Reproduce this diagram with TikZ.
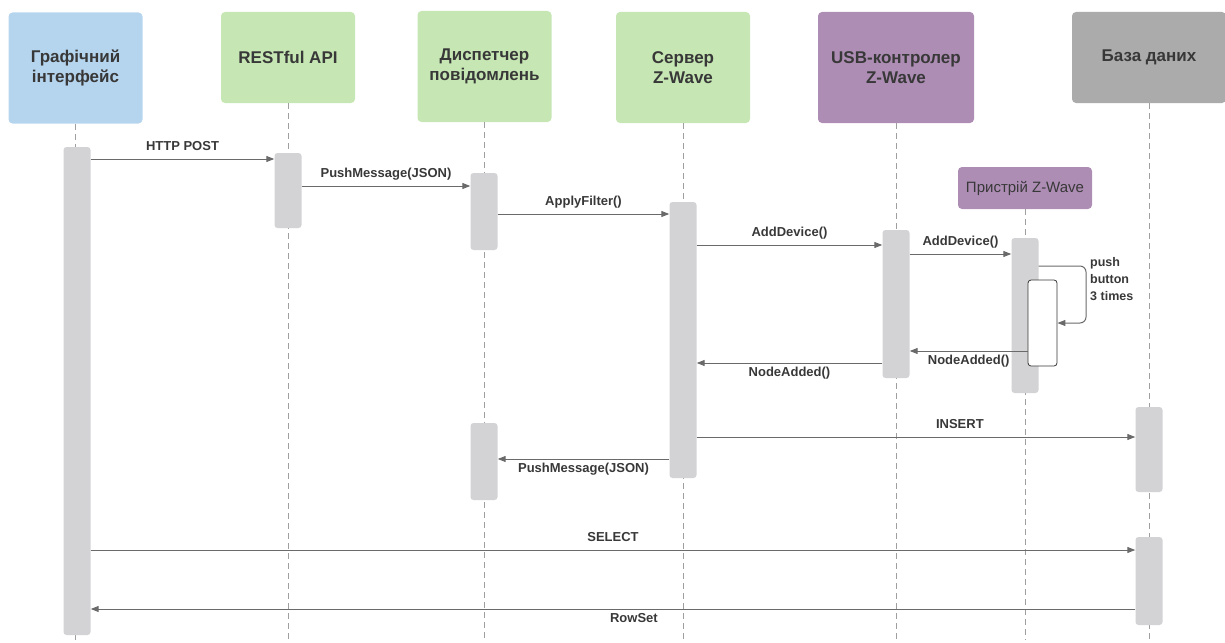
\documentclass[tikz,border=0pt]{standalone}
\usepackage{fontspec}
\setmainfont{Liberation Sans}
\usetikzlibrary{arrows.meta}
\definecolor{guiblue}{HTML}{B5D5EF}
\definecolor{procgreen}{HTML}{C6E7B4}
\definecolor{hwpurple}{HTML}{AE8DB5}
\definecolor{dbgrey}{HTML}{ABABAB}
\definecolor{actgrey}{HTML}{D3D3D5}
\definecolor{txtgrey}{HTML}{383838}
\definecolor{msggrey}{HTML}{6A6A6A}

\begin{document}
\begin{tikzpicture}[x=1pt,y=-1pt]
    \tikzstyle{head}=[rounded corners=4pt,minimum width=134pt,inner sep=0pt,align=center,text=txtgrey,font=\bfseries\fontsize{17}{20}\selectfont]
    \tikzstyle{tall head}=[head,minimum height=111pt]
    \tikzstyle{short head}=[head,minimum height=91pt]
    \tikzstyle{lifeline}=[draw=gray!75,line width=0.8pt,dash pattern=on 6pt off 4pt]
    \tikzstyle{act}=[fill=actgrey,rounded corners=3pt,minimum width=27pt,inner sep=0pt]
    \tikzstyle{msg}=[draw=msggrey,line width=1pt,-{Triangle[length=8pt,width=6pt]}]
    \tikzstyle{lbl}=[text=txtgrey,font=\bfseries\fontsize{13}{15}\selectfont,text height=9pt,text depth=2.5pt,inner sep=2pt]

    \useasboundingbox (0,0) rectangle (1225,642);

    % Participants
    \node[tall head,fill=guiblue] (gui) at (75.5,68) {Графічний\\інтерфейс};
    \node[short head,fill=procgreen] (rest) at (288,57.5) {RESTful API};
    \node[tall head,fill=procgreen] (disp) at (484.5,66.5) {Диспетчер\\повідомлень};
    \node[tall head,fill=procgreen] (srv) at (683,67.5) {Сервер\\Z-Wave};
    \node[tall head,fill=hwpurple,minimum width=156pt] (usb) at (896,67.5) {USB-контролер\\Z-Wave};
    \node[short head,fill=dbgrey,minimum width=154pt] (db) at (1149,57.5) {База даних};
    \node[fill=hwpurple,rounded corners=4pt,minimum width=134pt,minimum height=42pt,inner sep=0pt,text=txtgrey,font=\fontsize{15}{17}\selectfont] (dev) at (1025,188) {Пристрій Z-Wave};

    % Lifelines
    \foreach \n in {gui,rest,disp,srv,usb,dev,db}
        \draw[lifeline] (\n.south) -- (\n.south |- 0,640);

    % Activations
    \node[act,minimum height=488pt] (gui-a) at (77,391) {};
    \node[act,minimum height=75pt] (rest-a) at (288,190.5) {};
    \node[act,minimum height=77pt] (disp-a) at (484,211.5) {};
    \node[act,minimum height=276pt] (srv-a) at (683,340) {};
    \node[act,minimum height=148pt] (usb-a) at (896,304) {};
    \node[act,minimum height=155pt] (dev-a) at (1025,315.5) {};
    \node[draw=txtgrey,line width=0.8pt,fill=white,rounded corners=3pt,minimum width=29pt,minimum height=86pt,inner sep=0pt] (dev-n) at (1042.5,323) {};
    \node[act,minimum height=77pt] (disp-b) at (484,461.5) {};
    \node[act,minimum height=85pt] (db-a) at (1149,449.5) {};
    \node[act,minimum height=88pt] (db-b) at (1149,581) {};

    % Messages
    \draw[msg] (gui-a.east |- 0,159) -- node[lbl,above=3.5pt] {HTTP POST} (rest-a.west |- 0,159);
    \draw[msg] (rest-a.east |- 0,186) -- node[lbl,above=3.5pt] {PushMessage(JSON)} (disp-a.west |- 0,186);
    \draw[msg] (disp-a.east |- 0,214) -- node[lbl,above=3.5pt] {ApplyFilter()} (srv-a.west |- 0,214);
    \draw[msg] (srv-a.east |- 0,245) -- node[lbl,above=3.5pt] {AddDevice()} (usb-a.west |- 0,245);
    \draw[msg] (usb-a.east |- 0,254) -- node[lbl,above=3.5pt] {AddDevice()} (dev-a.west |- 0,254);
    \coordinate (loop) at (1086,0);
    \draw[msg,rounded corners=6pt] (dev-a.east |- 0,266) -| (loop |- 0,323) -- (dev-n.east |- 0,323);
    \node[anchor=north west,inner sep=0pt,align=left,text=txtgrey,font=\bfseries\fontsize{12.5}{17}\selectfont] (btnnote) at (1090,257) {push\\button\\3 times};
    \draw[msg] (dev-n.west |- 0,351) -- node[lbl,below=2pt] {NodeAdded()} (usb-a.east |- 0,351);
    \draw[msg] (usb-a.west |- 0,363) -- node[lbl,below=2pt] {NodeAdded()} (srv-a.east |- 0,363);
    \draw[msg] (srv-a.east |- 0,437) -- node[lbl,above=3.5pt,pos=0.6] {INSERT} (db-a.west |- 0,437);
    \draw[msg] (srv-a.west |- 0,459) -- node[lbl,below=2pt] {PushMessage(JSON)} (disp-b.east |- 0,459);
    \draw[msg] (gui-a.east |- 0,550) -- node[lbl,above=3.5pt] {SELECT} (db-b.west |- 0,550);
    \draw[msg] (db-b.west |- 0,609) -- node[lbl,below=2pt,pos=0.48] {RowSet} (gui-a.east |- 0,609);
\end{tikzpicture}
\end{document}
